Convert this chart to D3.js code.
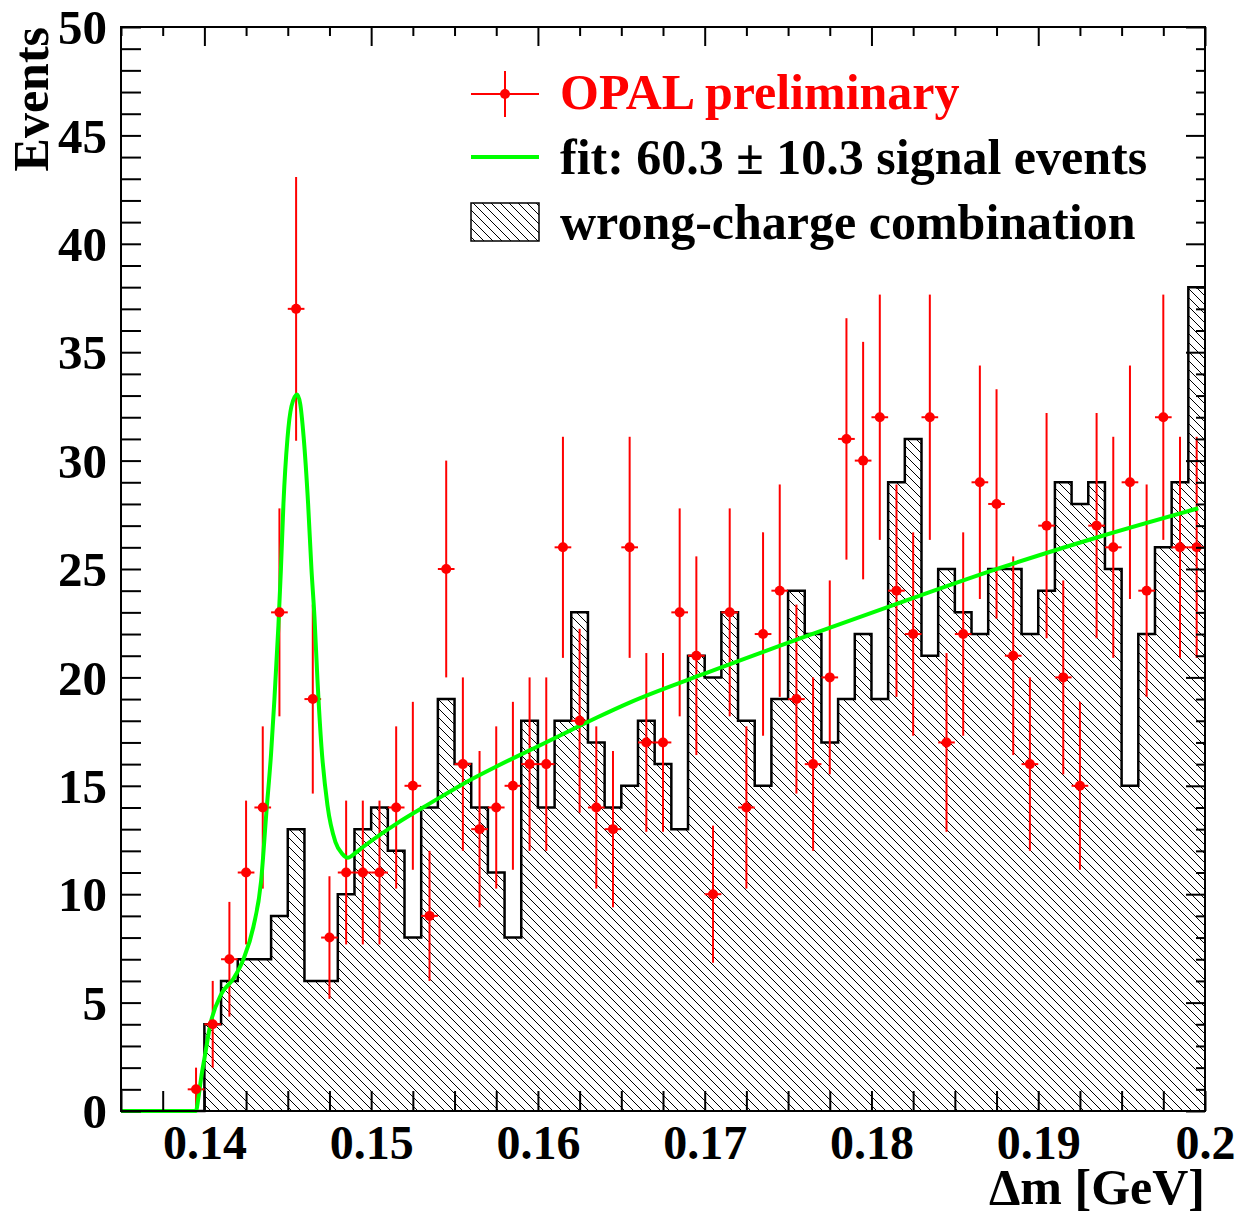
<!DOCTYPE html>
<meta charset="utf-8">
<script src="https://d3js.org/d3.v7.min.js"></script>
<style>
    body { margin: 0; background: #fff; }
    text { font-family: "Liberation Serif", "Times New Roman", serif; font-weight: bold; }
</style>
<div id="vis"></div>
<script>
    // histogram binning: 65 bins of 1 MeV from 0.135 to 0.2 GeV
    var binLo = 0.135, binW = 0.001, nBins = 65;

    // wrong-charge combination (hatched histogram), one value per bin
    var wrongCharge = [0, 0, 0, 0, 0,
        4, 6, 7, 7, 9, 13, 6, 6, 10, 13,
        14, 12, 8, 14, 19, 16, 14, 11, 8, 18,
        14, 18, 23, 17, 14, 15, 18, 16, 13, 21,
        20, 23, 18, 15, 19, 24, 22, 17, 19, 22,
        19, 29, 31, 21, 25, 23, 22, 25, 25, 22,
        24, 29, 28, 29, 25, 15, 22, 26, 29, 38];

    // OPAL data points (right-charge), one value per bin
    var opalData = [0, 0, 0, 0, 1,
        4, 7, 11, 14, 23, 37, 19, 8, 11, 11,
        11, 14, 15, 9, 25, 16, 13, 14, 15, 16,
        16, 26, 18, 14, 13, 26, 17, 17, 23, 21,
        10, 23, 14, 22, 24, 19, 16, 20, 31, 30,
        32, 24, 22, 32, 17, 22, 29, 28, 21, 16,
        27, 20, 15, 27, 26, 29, 24, 32, 26, 26];

    // fit curve
    var fitX = [0.135, 0.13949, 0.13964, 0.13982, 0.14002, 0.14036, 0.14102, 0.14174, 0.14234, 0.14294,
        0.1434, 0.14372, 0.144, 0.1442, 0.14444, 0.14459, 0.14474, 0.14498, 0.14522, 0.14556,
        0.14575, 0.14595, 0.14622, 0.14642, 0.1466, 0.14678, 0.14702, 0.14738, 0.14786, 0.14828,
        0.1486, 0.14905, 0.14955, 0.15155, 0.15355, 0.15554, 0.15754, 0.15954, 0.16154, 0.16354,
        0.16553, 0.16973, 0.17572, 0.18172, 0.18771, 0.19371, 0.1996];
    var fitY = [0, 0, 0.6, 1.6, 2.5, 4.0, 5.4, 6.1, 7.0, 8.5,
        10.6, 13.8, 16.5, 19.0, 22.4, 25.0, 28.0, 31.0, 32.5, 33.05,
        32.6, 31.1, 28.0, 25.0, 22.8, 19.9, 16.8, 14.1, 12.4, 11.85,
        11.68, 11.9, 12.2, 13.27, 14.2, 15.1, 15.9, 16.65, 17.4, 18.15,
        18.85, 20.1, 21.8, 23.45, 25.05, 26.5, 27.8];

    var xTicks = [0.14, 0.15, 0.16, 0.17, 0.18, 0.19, 0.2];
    var yTicks = [0, 5, 10, 15, 20, 25, 30, 35, 40, 45, 50];

    var W = 1245, H = 1215;
    var pl = 121, pr = 1205, pt = 27, pb = 1111;

    var svg = d3.select("#vis").append("svg")
        .attr("width", W)
        .attr("height", H);

    var x = d3.scaleLinear().domain([0.135, 0.2]).range([pl, pr]);
    var y = d3.scaleLinear().domain([0, 50]).range([pb, pt]);

    // hatch pattern
    var hs = 9;
    var defs = svg.append("defs");
    var pat = defs.append("pattern")
        .attr("id", "hatch")
        .attr("patternUnits", "userSpaceOnUse")
        .attr("width", hs)
        .attr("height", hs);
    pat.append("rect").attr("width", hs).attr("height", hs).attr("fill", "#fff");
    pat.append("path")
        .attr("d", "M-2,-2L" + (hs + 2) + "," + (hs + 2) + "M-2," + (hs - 2) + "L2," + (hs + 2) +
            "M" + (hs - 2) + ",-2L" + (hs + 2) + ",2")
        .attr("stroke", "#000")
        .attr("stroke-width", 1);

    var bins = d3.range(nBins).map(function (i) {
        return { lo: binLo + i * binW, c: binLo + (i + 0.5) * binW, wc: wrongCharge[i], d: opalData[i] };
    });

    // histogram (step)
    var stepPts = bins.map(function (b) { return [b.lo, b.wc]; });
    stepPts.push([0.2, wrongCharge[nBins - 1]]);

    svg.append("path")
        .datum(stepPts)
        .attr("fill", "url(#hatch)")
        .attr("d", d3.area()
            .curve(d3.curveStepAfter)
            .x(function (d) { return x(d[0]); })
            .y0(y(0))
            .y1(function (d) { return y(d[1]); }));

    svg.append("path")
        .datum(stepPts)
        .attr("fill", "none")
        .attr("stroke", "#000")
        .attr("stroke-width", 2.5)
        .attr("d", d3.line()
            .curve(d3.curveStepAfter)
            .x(function (d) { return x(d[0]); })
            .y(function (d) { return y(d[1]); }));

    // data error bars
    var pts = bins.filter(function (b) { return b.d > 0; });
    var eb = svg.append("g").attr("stroke", "#ff0000").attr("stroke-width", 2);
    eb.selectAll("line.v").data(pts).enter().append("line")
        .attr("x1", function (d) { return x(d.c); })
        .attr("x2", function (d) { return x(d.c); })
        .attr("y1", function (d) { return y(d.d + Math.sqrt(d.d)); })
        .attr("y2", function (d) { return y(Math.max(0, d.d - Math.sqrt(d.d))); });
    eb.selectAll("line.h").data(pts).enter().append("line")
        .attr("x1", function (d) { return x(d.c - binW / 2); })
        .attr("x2", function (d) { return x(d.c + binW / 2); })
        .attr("y1", function (d) { return y(d.d); })
        .attr("y2", function (d) { return y(d.d); });

    // fit curve
    var fitPts = fitX.map(function (v, i) { return [v, fitY[i]]; });
    svg.append("path")
        .datum(fitPts)
        .attr("fill", "none")
        .attr("stroke", "#00ff00")
        .attr("stroke-width", 4)
        .attr("d", d3.line()
            .curve(d3.curveMonotoneX)
            .x(function (d) { return x(d[0]); })
            .y(function (d) { return y(d[1]); }));

    // markers
    svg.append("g").selectAll("circle").data(pts).enter().append("circle")
        .attr("cx", function (d) { return x(d.c); })
        .attr("cy", function (d) { return y(d.d); })
        .attr("r", 5)
        .attr("fill", "#ff0000");

    // frame
    svg.append("rect")
        .attr("x", pl).attr("y", pt)
        .attr("width", pr - pl).attr("height", pb - pt)
        .attr("fill", "none")
        .attr("stroke", "#000")
        .attr("stroke-width", 2);

    // axes
    var yMinor = d3.range(0, 51).filter(function (v) { return v % 5 !== 0; });
    var xMinor = d3.range(0, 27).map(function (i) { return 0.135 + i * 0.0025; })
        .filter(function (v) { return Math.abs(v * 100 - Math.round(v * 100)) > 1e-6; });

    function styleAxis(g) {
        g.select(".domain").remove();
        g.selectAll(".tick line").attr("stroke", "#000").attr("stroke-width", 2);
        g.selectAll(".tick text").style("font-size", "49px").attr("fill", "#000");
    }

    svg.append("g").attr("transform", "translate(" + pl + ",0)")
        .call(d3.axisLeft(y).tickValues(yTicks).tickSize(-20).tickPadding(14).tickFormat(d3.format("d")))
        .call(styleAxis)
        .selectAll(".tick text").attr("dy", "0.34em");
    svg.append("g").attr("transform", "translate(" + pl + ",0)")
        .call(d3.axisLeft(y).tickValues(yMinor).tickSize(-20).tickFormat(""))
        .call(styleAxis);
    svg.append("g").attr("transform", "translate(" + pr + ",0)")
        .call(d3.axisRight(y).tickValues(yTicks).tickSize(-19).tickFormat(""))
        .call(styleAxis);
    svg.append("g").attr("transform", "translate(" + pr + ",0)")
        .call(d3.axisRight(y).tickValues(yMinor).tickSize(-9).tickFormat(""))
        .call(styleAxis);

    svg.append("g").attr("transform", "translate(0," + pb + ")")
        .call(d3.axisBottom(x).tickValues(xTicks).tickSize(-20).tickFormat(d3.format("")))
        .call(styleAxis)
        .selectAll(".tick text").style("font-size", "48px").attr("dy", "0.71em").attr("y", 14);
    svg.append("g").attr("transform", "translate(0," + pb + ")")
        .call(d3.axisBottom(x).tickValues(xMinor).tickSize(-20).tickFormat(""))
        .call(styleAxis);
    svg.append("g").attr("transform", "translate(0," + pt + ")")
        .call(d3.axisTop(x).tickValues(xTicks).tickSize(-19).tickFormat(""))
        .call(styleAxis);
    svg.append("g").attr("transform", "translate(0," + pt + ")")
        .call(d3.axisTop(x).tickValues(xMinor).tickSize(-9).tickFormat(""))
        .call(styleAxis);

    // axis titles
    svg.append("text")
        .attr("x", pr).attr("y", 1204)
        .attr("text-anchor", "end")
        .style("font-size", "50px")
        .text("\u0394m [GeV]");
    svg.append("text")
        .attr("transform", "translate(48," + pt + ") rotate(-90)")
        .attr("text-anchor", "end")
        .style("font-size", "50px")
        .text("Events");

    // legend
    var lg = svg.append("g");
    lg.append("line").attr("x1", 471).attr("x2", 539).attr("y1", 94).attr("y2", 94)
        .attr("stroke", "#ff0000").attr("stroke-width", 2);
    lg.append("line").attr("x1", 505).attr("x2", 505).attr("y1", 71).attr("y2", 117)
        .attr("stroke", "#ff0000").attr("stroke-width", 2);
    lg.append("circle").attr("cx", 505).attr("cy", 94).attr("r", 5).attr("fill", "#ff0000");
    lg.append("text").attr("x", 560).attr("y", 109).attr("fill", "#ff0000")
        .style("font-size", "50px").text("OPAL preliminary");

    lg.append("line").attr("x1", 471).attr("x2", 539).attr("y1", 157).attr("y2", 157)
        .attr("stroke", "#00ff00").attr("stroke-width", 4);
    lg.append("text").attr("x", 560).attr("y", 174).attr("fill", "#000")
        .style("font-size", "50px").text("fit: 60.3 \u00b1 10.3 signal events");

    lg.append("rect").attr("x", 471).attr("y", 203).attr("width", 68).attr("height", 38)
        .attr("fill", "url(#hatch)").attr("stroke", "#000").attr("stroke-width", 1.5);
    lg.append("text").attr("x", 560).attr("y", 239).attr("fill", "#000")
        .style("font-size", "50px").text("wrong-charge combination");
</script>
